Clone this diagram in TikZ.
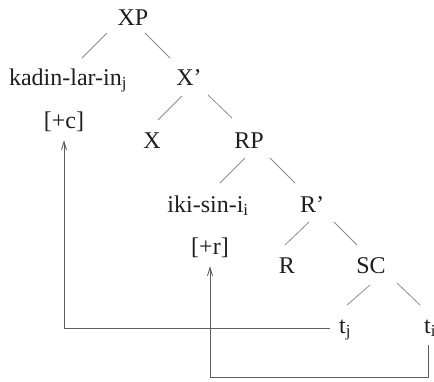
\documentclass[tikz,border=0pt]{standalone}
\usepackage{fontspec}
\setmainfont{Liberation Serif}
\usetikzlibrary{arrows.meta}
\definecolor{ink}{HTML}{1E1E1E}
\definecolor{branch}{HTML}{8C8C8C}
\definecolor{trail}{HTML}{5E5E5E}

\begin{document}
\begin{tikzpicture}[x=1pt,y=-1pt,font=\fontsize{24}{28}\selectfont,
              w/.style={inner sep=0pt,text height=16pt,text depth=0pt,text=ink},
              br/.style={draw=branch,line width=0.8pt},
              mv/.style={draw=trail,line width=0.9pt,-{Straight Barb[length=8pt,width=5pt]}}]
  \useasboundingbox (0,0) rectangle (434,381);
  % tree
  \node[w] (xp) at (133,17) {XP};
  \node[w] (kad) at (68,77) {kadin-lar-in\textsubscript{j}};
  \node[w] (xb) at (189,77) {X'};
  \node[w] (pc) at (64,120) {[+c]};
  \node[w] (x) at (152,140) {X};
  \node[w] (rp) at (249,140) {RP};
  \node[w] (iki) at (208,204) {iki-sin-i\textsubscript{i}};
  \node[w] (rb) at (312,204) {R'};
  \node[w] (pr) at (210,246) {[+r]};
  \node[w] (r) at (287,265) {R};
  \node[w] (sc) at (371,265) {SC};
  \node[w] (tj) at (345,325) {t\textsubscript{j}};
  \node[w] (ti) at (430,325) {t\textsubscript{i}};
  \draw[br] ([shift={(-26,16)}]xp.center) -- ([shift={(14,-19)}]kad.center);
  \draw[br] ([shift={(12,16)}]xp.center) -- ([shift={(-19,-19)}]xb.center);
  \draw[br] ([shift={(-7,19)}]xb.center) -- ([shift={(6,-20)}]x.center);
  \draw[br] ([shift={(19,18)}]xb.center) -- ([shift={(-17,-22)}]rp.center);
  \draw[br] ([shift={(-4,18)}]rp.center) -- ([shift={(12,-21)}]iki.center);
  \draw[br] ([shift={(21,18)}]rp.center) -- ([shift={(-17,-21)}]rb.center);
  \draw[br] ([shift={(-3,18)}]rb.center) -- ([shift={(-2,-20)}]r.center);
  \draw[br] ([shift={(22,18)}]rb.center) -- ([shift={(-14,-20)}]sc.center);
  \draw[br] ([shift={(-1,20)}]sc.center) -- ([shift={(2,-20)}]tj.center);
  \draw[br] ([shift={(26,18)}]sc.center) -- ([shift={(-10,-20)}]ti.center);
  % movement
  \draw[mv] ([shift={(-9,3)}]tj.west) -| ([shift={(0,12)}]pc.south);
  \draw[mv] ([shift={(-2,20)}]ti.center) -- ++(0,32) -| ([shift={(0,12)}]pr.south);
\end{tikzpicture}
\end{document}
